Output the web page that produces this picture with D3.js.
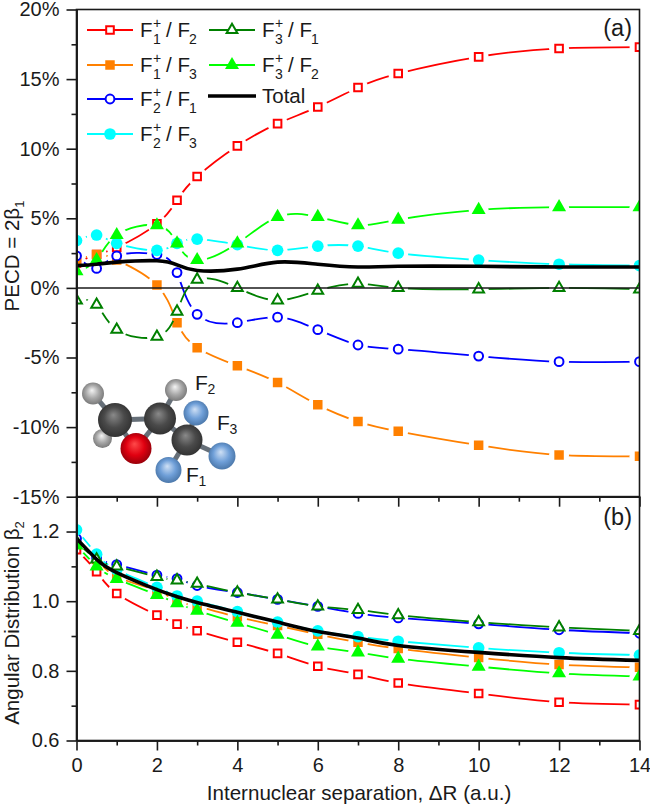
<!DOCTYPE html>
<html>
<head>
<meta charset="utf-8">
<script src="https://cdn.jsdelivr.net/npm/d3@7"></script>
<style>
  html, body { margin: 0; padding: 0; background: #fff; }
  text { font-family: "Liberation Sans", Arial, sans-serif; fill: #1a1a1a; }
  .tick text { font-size: 20px; }
  .domain, .tick line { stroke: #1a1a1a; stroke-width: 1.6px; }
</style>
</head>
<body>
<div id="chart"></div>
<script>
let separations = [0, 0.5, 1, 2, 2.5, 3, 4, 5, 6, 7, 8, 10, 12, 14];

// panel (a) PECD, in %
let pecdF1F2 = [1.8, 2.4, 2.9, 4.6, 6.3, 8.0, 10.2, 11.8, 13.0, 14.4, 15.4, 16.6, 17.2, 17.3];
let pecdF1F3 = [2.0, 2.4, 2.0, 0.2, -2.5, -4.3, -5.6, -6.8, -8.4, -9.6, -10.3, -11.3, -12.0, -12.1];
let pecdF2F1 = [2.3, 1.4, 2.3, 2.4, 1.1, -1.9, -2.5, -2.1, -3.0, -4.1, -4.4, -4.9, -5.3, -5.3];
let pecdF2F3 = [3.4, 3.8, 3.2, 2.7, 3.2, 3.5, 3.1, 2.7, 3.0, 3.0, 2.5, 2.0, 1.7, 1.6];
let pecdF3F1 = [-0.9, -1.2, -3.0, -3.5, -1.7, 0.6, 0.0, -0.9, -0.2, 0.3, 0.0, -0.1, 0.0, -0.1];
let pecdF3F2 = [1.2, 2.0, 3.8, 4.5, 3.2, 2.0, 3.2, 5.1, 5.1, 4.5, 4.9, 5.6, 5.8, 5.8];
let pecdTotal = [1.6, 1.7, 1.85, 1.95, 1.65, 1.25, 1.35, 1.85, 1.7, 1.5, 1.55, 1.55, 1.5, 1.5];

// panel (b) beta 2
let betaF1F2 = [1.148, 1.085, 1.022, 0.96, 0.934, 0.915, 0.882, 0.85, 0.813, 0.79, 0.765, 0.735, 0.71, 0.703];
let betaF1F3 = [1.17, 1.12, 1.07, 1.03, 1.0, 0.985, 0.955, 0.93, 0.905, 0.882, 0.864, 0.838, 0.818, 0.81];
let betaF2F1 = [1.18, 1.125, 1.105, 1.075, 1.065, 1.045, 1.025, 1.005, 0.985, 0.965, 0.952, 0.935, 0.918, 0.908];
let betaF2F3 = [1.205, 1.135, 1.09, 1.04, 1.015, 1.0, 0.97, 0.94, 0.915, 0.898, 0.885, 0.866, 0.852, 0.845];
let betaF3F1 = [1.17, 1.12, 1.10, 1.07, 1.06, 1.05, 1.025, 1.005, 0.985, 0.975, 0.96, 0.94, 0.925, 0.915];
let betaF3F2 = [1.16, 1.10, 1.064, 1.018, 0.994, 0.973, 0.938, 0.904, 0.87, 0.853, 0.835, 0.812, 0.793, 0.784];
let betaTotal = [1.18, 1.12, 1.082, 1.033, 1.013, 0.996, 0.968, 0.94, 0.913, 0.894, 0.873, 0.853, 0.838, 0.83];

let seriesNames = ['F1F2', 'F1F3', 'F2F1', 'F2F3', 'F3F1', 'F3F2'];
let seriesColors = ['#ff0000', '#ff8000', '#0000ff', '#00ffff', '#008000', '#00ff00'];
let seriesShapes = [d3.symbolSquare, d3.symbolSquare, d3.symbolCircle, d3.symbolCircle, d3.symbolTriangle, d3.symbolTriangle];
let seriesSizes = [58, 90, 61, 107, 50, 85];
let seriesOpen = [true, false, true, false, true, false];
let pecdValues = [pecdF1F2, pecdF1F3, pecdF2F1, pecdF2F3, pecdF3F1, pecdF3F2];
let betaValues = [betaF1F2, betaF1F3, betaF2F1, betaF2F3, betaF3F1, betaF3F2];

let pecdTicks = [-15, -10, -5, 0, 5, 10, 15, 20];
let pecdMinor = [-12.5, -7.5, -2.5, 2.5, 7.5, 12.5, 17.5];
let betaTicks = [0.6, 0.8, 1.0, 1.2];
let betaMinor = [0.7, 0.9, 1.1];
let xTicks = [0, 2, 4, 6, 8, 10, 12, 14];
let xMinor = [1, 3, 5, 7, 9, 11, 13];

// legend: ion index, neutral index
let legendIon = [1, 1, 2, 2, 3, 3];
let legendFrag = [2, 3, 1, 3, 1, 2];

let left = 76.5, right = 639.5;
let svg = d3.select('#chart').append('svg')
  .attr('width', 650)
  .attr('height', 805)
  .style('display', 'block');
let defs = svg.append('defs');

let xScale = d3.scaleLinear().domain([0, 14]).range([left, right]);
let yPecd = d3.scaleLinear().domain([-15, 20]).range([496.7, 9.5]);
let yBeta = d3.scaleLinear().domain([0.6, 1.3]).range([740.5, 496.7]);

let drawPanel = (id, yScale, values, total, yTicks, yMinor, yFormat) => {
  let top = yScale.range()[1], bottom = yScale.range()[0];
  let g = svg.append('g');

  defs.append('clipPath').attr('id', 'clip-' + id)
    .append('rect')
    .attr('x', left).attr('y', top)
    .attr('width', right - left).attr('height', bottom - top);

  let line = d3.line()
    .x((d, i) => xScale(separations[i]))
    .y(d => yScale(d))
    .curve(d3.curveNatural);

  let plot = g.append('g').attr('clip-path', 'url(#clip-' + id + ')');

  values.forEach((vals, s) => {
    // the lines stop short of their own symbols
    let maskId = 'gap-' + id + '-' + seriesNames[s];
    let mask = defs.append('mask').attr('id', maskId)
      .attr('maskUnits', 'userSpaceOnUse')
      .attr('x', 0).attr('y', 0).attr('width', 650).attr('height', 805);
    mask.append('rect').attr('width', 650).attr('height', 805).attr('fill', '#fff');
    mask.selectAll('circle').data(vals).enter().append('circle')
      .attr('cx', (d, i) => xScale(separations[i]))
      .attr('cy', d => yScale(d))
      .attr('r', 10)
      .attr('fill', '#000');

    plot.append('path')
      .datum(vals)
      .attr('d', line)
      .attr('fill', 'none')
      .attr('stroke', seriesColors[s])
      .attr('stroke-width', 1.8)
      .attr('mask', 'url(#' + maskId + ')');

    plot.selectAll('.sym' + s).data(vals).enter().append('path')
      .attr('class', 'sym' + s)
      .attr('d', d3.symbol().type(seriesShapes[s]).size(seriesSizes[s]))
      .attr('transform', (d, i) => 'translate(' + xScale(separations[i]) + ',' + yScale(d) + ')')
      .attr('fill', seriesOpen[s] ? '#fff' : seriesColors[s])
      .attr('stroke', seriesOpen[s] ? seriesColors[s] : 'none')
      .attr('stroke-width', 2);
  });

  plot.append('path')
    .datum(total)
    .attr('d', line)
    .attr('fill', 'none')
    .attr('stroke', '#000')
    .attr('stroke-width', 3.6);

  // frame
  g.append('rect')
    .attr('x', left).attr('y', top)
    .attr('width', right - left).attr('height', bottom - top)
    .attr('fill', 'none')
    .attr('stroke', '#1a1a1a')
    .attr('stroke-width', 1.6);

  g.append('g')
    .attr('transform', 'translate(' + left + ',0)')
    .call(d3.axisLeft(yScale).tickValues(yTicks).tickSize(10).tickSizeOuter(0).tickPadding(7).tickFormat(yFormat));
  g.append('g')
    .attr('transform', 'translate(' + left + ',0)')
    .call(d3.axisLeft(yScale).tickValues(yMinor).tickSize(5).tickSizeOuter(0).tickFormat(''));
  g.append('g')
    .attr('transform', 'translate(0,' + bottom + ')')
    .call(d3.axisBottom(xScale).tickValues(xTicks).tickSize(10).tickSizeOuter(0).tickPadding(7)
      .tickFormat(id == 'b' ? d3.format('d') : ''));
  g.append('g')
    .attr('transform', 'translate(0,' + bottom + ')')
    .call(d3.axisBottom(xScale).tickValues(xMinor).tickSize(5).tickSizeOuter(0).tickFormat(''));

  return g;
};

drawPanel('a', yPecd, pecdValues, pecdTotal, pecdTicks, pecdMinor, d => d + '%');
drawPanel('b', yBeta, betaValues, betaTotal, betaTicks, betaMinor, d3.format('.1f'));

// zero line of panel (a)
svg.append('line')
  .attr('x1', left).attr('x2', right)
  .attr('y1', yPecd(0)).attr('y2', yPecd(0))
  .attr('stroke', '#1a1a1a')
  .attr('stroke-width', 1.5);

svg.append('text').attr('x', 632).attr('y', 36).attr('text-anchor', 'end')
  .style('font-size', '23.5px').text('(a)');
svg.append('text').attr('x', 632).attr('y', 525).attr('text-anchor', 'end')
  .style('font-size', '23.5px').text('(b)');

svg.append('text')
  .attr('x', 359).attr('y', 800)
  .attr('text-anchor', 'middle')
  .style('font-size', '20.6px')
  .text('Internuclear separation, \u0394R (a.u.)');

let yLabel = (cy, main, sub) => {
  let t = svg.append('text')
    .attr('transform', 'translate(19,' + cy + ') rotate(-90)')
    .attr('text-anchor', 'middle')
    .style('font-size', '20.5px');
  t.append('tspan').text(main);
  t.append('tspan').attr('dy', 5).style('font-size', '13px').text(sub);
};
yLabel(256, 'PECD = 2\u03b2', '1');
yLabel(623, 'Angular Distribution \u03b2', '2');

// legend
let fLabel = (x, y, a, b) => {
  let size = 20.5, small = 14;
  svg.append('text').attr('x', x).attr('y', y + 7).style('font-size', size + 'px').text('F');
  svg.append('text').attr('x', x + 13).attr('y', y - 2).style('font-size', small + 'px').text('+');
  svg.append('text').attr('x', x + 13).attr('y', y + 14).style('font-size', small + 'px').text(a);
  svg.append('text').attr('x', x + 26).attr('y', y + 7).style('font-size', size + 'px').text('/ F');
  svg.append('text').attr('x', x + 49).attr('y', y + 14).style('font-size', small + 'px').text(b);
};
let legendX = [110, 110, 110, 110, 232, 232];
let legendY = [30, 65, 99, 134, 30, 65];
seriesNames.forEach((name, s) => {
  let x = legendX[s], y = legendY[s];
  svg.append('line')
    .attr('x1', x - 23).attr('x2', x + 23).attr('y1', y).attr('y2', y)
    .attr('stroke', seriesColors[s]).attr('stroke-width', 1.8);
  svg.append('path')
    .attr('d', d3.symbol().type(seriesShapes[s]).size(seriesSizes[s]))
    .attr('transform', 'translate(' + x + ',' + y + ')')
    .attr('fill', seriesOpen[s] ? '#fff' : seriesColors[s])
    .attr('stroke', seriesOpen[s] ? seriesColors[s] : 'none')
    .attr('stroke-width', 2);
  fLabel(x + 30, y, legendIon[s], legendFrag[s]);
});
svg.append('line')
  .attr('x1', 208).attr('x2', 256).attr('y1', 96).attr('y2', 96)
  .attr('stroke', '#000').attr('stroke-width', 3.6);
svg.append('text').attr('x', 262).attr('y', 103).style('font-size', '20.5px').text('Total');

// molecule inset
let atomStyles = {
  C: ['#8a8a8a', '#4a4a4a', '#2a2a2a'],
  H: ['#f4f4f4', '#a8a8a8', '#6a6a6a'],
  O: ['#ff4a4a', '#e00010', '#800008'],
  F: ['#cfe0f5', '#6f9fd8', '#3f6a9a']
};
Object.keys(atomStyles).forEach(k => {
  let grad = defs.append('radialGradient').attr('id', 'atom-' + k)
    .attr('cx', '50%').attr('cy', '50%').attr('r', '60%')
    .attr('fx', '45%').attr('fy', '35%');
  atomStyles[k].forEach((c, i) => {
    grad.append('stop').attr('offset', (i * 50) + '%').attr('stop-color', c);
  });
});
let atomType = ['H', 'H', 'C', 'C', 'H', 'C', 'O', 'F', 'F', 'F'];
let atomX = [93, 102.5, 115, 160, 176, 187, 136, 196, 222, 168.5];
let atomY = [393.5, 438.5, 420, 418.5, 390, 440, 448.5, 413, 456, 470];
let atomR = [11, 9.5, 17, 16, 11, 15.5, 15.5, 12.5, 13.5, 13];
let bondA = [0, 1, 2, 3, 3, 5, 5, 5, 2, 3];
let bondB = [2, 2, 3, 4, 5, 7, 8, 9, 6, 6];
svg.selectAll('.bond').data(bondA).enter().append('line')
  .attr('class', 'bond')
  .attr('x1', d => atomX[d]).attr('y1', d => atomY[d])
  .attr('x2', (d, i) => atomX[bondB[i]]).attr('y2', (d, i) => atomY[bondB[i]])
  .attr('stroke', '#666f78').attr('stroke-width', 5);
svg.selectAll('.atom').data(atomType).enter().append('circle')
  .attr('class', 'atom')
  .attr('cx', (d, i) => atomX[i])
  .attr('cy', (d, i) => atomY[i])
  .attr('r', (d, i) => atomR[i])
  .attr('fill', d => 'url(#atom-' + d + ')');

let inset = [['2', 195, 390], ['3', 217, 430], ['1', 186, 482]];
inset.forEach(d => {
  svg.append('text').attr('x', d[1]).attr('y', d[2]).style('font-size', '21px').text('F');
  svg.append('text').attr('x', d[1] + 12.5).attr('y', d[2] + 4).style('font-size', '14px').text(d[0]);
});
</script>
</body>
</html>
